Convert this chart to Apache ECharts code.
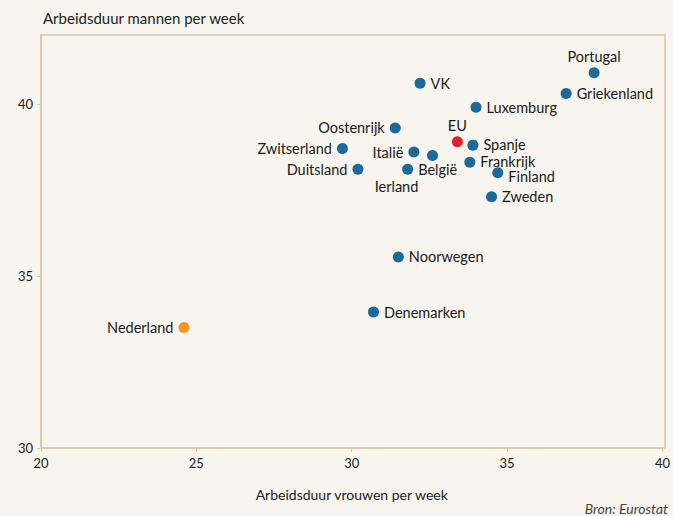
<!DOCTYPE html>
<html>
<head>
<meta charset="utf-8">
<script src="https://cdn.jsdelivr.net/npm/echarts@6/dist/echarts.min.js"></script>
<style>
  html, body { margin: 0; padding: 0; background: #f7f5ee; }
  #chart { width: 673px; height: 516px; }
</style>
</head>
<body>
<div id="chart"></div>
<script>
const countries = ["Portugal", "Griekenland", "VK", "Luxemburg", "Oostenrijk", "EU", "Spanje",
  "Zwitserland", "Italië", "Ierland", "Frankrijk", "Duitsland", "België", "Finland",
  "Zweden", "Noorwegen", "Denemarken", "Nederland"];
const vrouwen = [37.8, 36.9, 32.2, 34.0, 31.4, 33.4, 33.9, 29.7, 32.0, 32.6, 33.8, 30.2, 31.8, 34.7, 34.5, 31.5, 30.7, 24.6];
const mannen = [40.9, 40.3, 40.6, 39.9, 39.3, 38.9, 38.8, 38.7, 38.6, 38.5, 38.3, 38.1, 38.1, 38.0, 37.3, 35.55, 33.95, 33.5];

// label placement and colours per country
const leftLabels = ["Oostenrijk", "Zwitserland", "Italië", "Duitsland", "Nederland"];
const topLabels = ["Portugal", "EU"];
const dotColor = (name) => name === "EU" ? "#e3212e" : name === "Nederland" ? "#f7941d" : "#1a6a9c";

const font = "Lato, 'Open Sans', sans-serif";
const frame = "#d6c9ab";

const chart = echarts.init(document.getElementById("chart"), null, { renderer: "svg" });

const data = countries.map((c, i) => {
  let label = { position: "right", distance: 5 };
  if (leftLabels.includes(c)) label = { position: "left", distance: 5 };
  if (topLabels.includes(c)) label = { position: "top", distance: 4 };
  if (c === "Ierland") label = { position: "bottom", offset: [-36, 14], distance: 5 };
  if (c === "Spanje") label = { position: "right", offset: [0, -1], distance: 5 };
  if (c === "Frankrijk") label = { position: "right", offset: [0, -1], distance: 5 };
  if (c === "Finland") label = { position: "right", offset: [0, 4], distance: 5 };
  return {
    name: c,
    value: [vrouwen[i], mannen[i]],
    itemStyle: { color: dotColor(c), opacity: 1 },
    label,
  };
});

chart.setOption({
  backgroundColor: "#f7f5ee",
  animation: false,
  grid: { left: 41, right: 8, top: 35, bottom: 68 },
  xAxis: {
    type: "value",
    min: 20,
    max: 40,
    interval: 5,
    name: "Arbeidsduur vrouwen per week",
    nameLocation: "middle",
    nameGap: 39,
    nameTextStyle: { fontFamily: font, fontSize: 14, color: "#222" },
    axisLine: { show: true, lineStyle: { color: frame, width: 1.5 } },
    axisTick: { show: true, length: 4, lineStyle: { color: frame } },
    axisLabel: { fontFamily: font, fontSize: 13, color: "#222", margin: 8 },
    splitLine: { show: false },
  },
  yAxis: {
    type: "value",
    min: 30,
    max: 42,
    interval: 5,
    name: "Arbeidsduur mannen per week",
    nameLocation: "end",
    nameGap: 10,
    nameTextStyle: { fontFamily: font, fontSize: 15, color: "#222", align: "left", padding: [0, 0, 0, 2] },
    axisLine: { show: true, lineStyle: { color: frame, width: 1.5 } },
    axisTick: { show: true, length: 4, lineStyle: { color: frame } },
    axisLabel: { fontFamily: font, fontSize: 13, color: "#222", margin: 8, showMaxLabel: false },
    splitLine: { show: false },
  },
  graphic: [
    {
      type: "rect",
      shape: { x: 41, y: 35, width: 624, height: 413 },
      style: { fill: "none", stroke: frame, lineWidth: 1.5 },
      silent: true,
    },
    {
      type: "text",
      right: 5,
      bottom: 1,
      style: { text: "Bron: Eurostat", font: "italic 14px " + font, fill: "#444" },
    },
  ],
  series: [
    {
      type: "scatter",
      symbolSize: 11,
      data,
      label: {
        show: true,
        formatter: "{b}",
        fontFamily: font,
        fontSize: 14.5,
        lineHeight: 14,
        color: "#1a1a1a",
      },
    },
  ],
});
</script>
</body>
</html>
